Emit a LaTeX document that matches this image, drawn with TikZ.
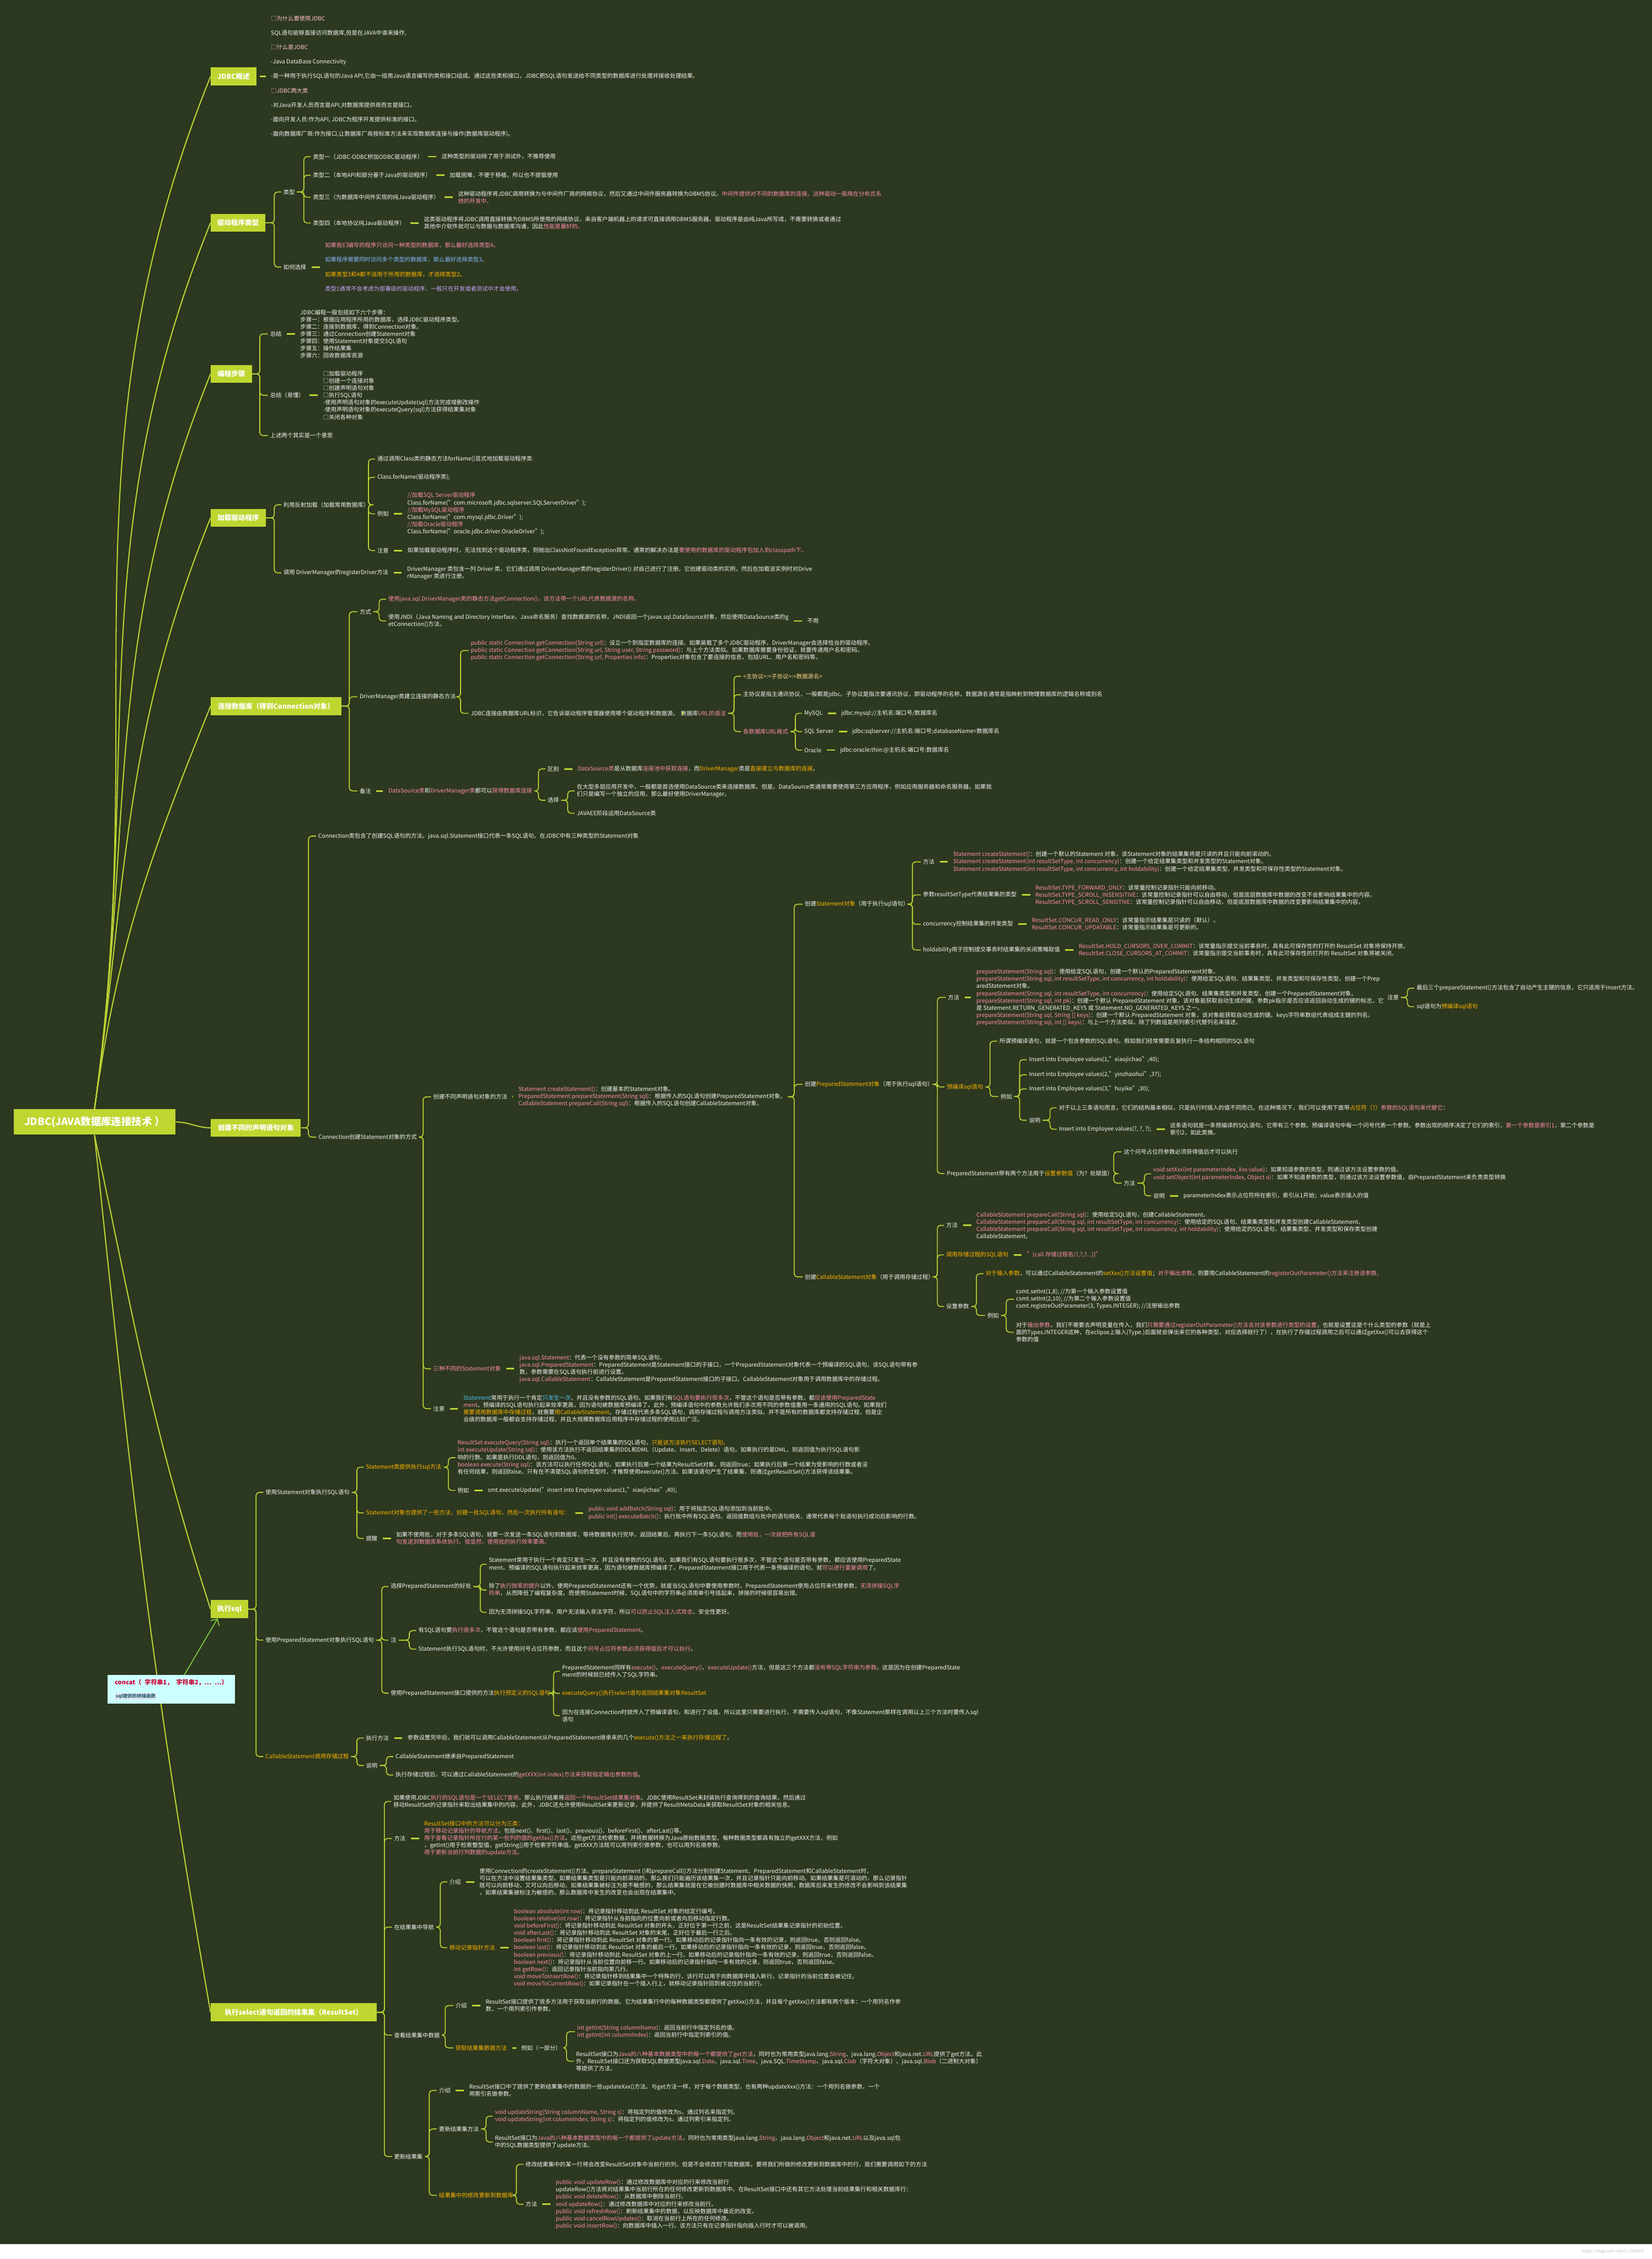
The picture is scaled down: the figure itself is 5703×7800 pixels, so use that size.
\documentclass[tikz,border=0pt]{standalone}
\usepackage{fontspec}
\setmainfont{Noto Sans CJK SC}
\usetikzlibrary{positioning, arrows.meta, calc}

\definecolor{bgc}{HTML}{2C381F}
\definecolor{linec}{HTML}{BDD334}
\definecolor{boxc}{HTML}{BFD630}
\definecolor{txtc}{HTML}{F4F4F4}
\definecolor{pinkc}{HTML}{FF8CB0}
\definecolor{orgc}{HTML}{FFB300}
\definecolor{ltpink}{HTML}{FFC4C4}
\definecolor{bluec}{HTML}{86B8FF}
\definecolor{lilac}{HTML}{C9A6FF}
\definecolor{peach}{HTML}{FFD48C}
\definecolor{skyc}{HTML}{4FC1F0}
\definecolor{arrc}{HTML}{7BC142}
\definecolor{cyanc}{HTML}{CCFFFF}
\definecolor{redc}{HTML}{CC0033}
\definecolor{subc}{HTML}{DDEAF0}
\definecolor{tealc}{HTML}{2B5F75}

\newcommand\fs{\fontsize{5.6}{7.1}\selectfont}
\newcommand\fw{\fontsize{5.6}{14.2}\selectfont}
\newcommand\fb{\fontsize{6.8}{8}\selectfont\bfseries}
\newcommand\pk[1]{\textcolor{pinkc}{#1}}
\newcommand\og[1]{\textcolor{orgc}{#1}}
\newcommand\lp[1]{\textcolor{ltpink}{#1}}
\newcommand\bu[1]{\textcolor{bluec}{#1}}
\newcommand\lc[1]{\textcolor{lilac}{#1}}
\newcommand\pc[1]{\textcolor{peach}{#1}}
\newcommand\sk[1]{\textcolor{skyc}{#1}}

% parent -> spine at x -> children
\newcommand\fork[3]{%
  \coordinate (sp) at (#2,0);
  \foreach \ch in {#3}{\draw[link] (#1.east) -- (#1.east -| sp) |- (\ch.west);}}

\begin{document}
\begin{tikzpicture}[x=0.1mm, y=-0.1mm, node distance=14pt,
    topic/.style={rectangle, fill=boxc, text=white, font=\fb, anchor=west, minimum height=17.6pt, inner xsep=4pt},
    txt/.style={anchor=west, align=left, inner sep=2pt, text=txtc, font=\fs},
    link/.style={draw=linec, line width=0.9pt, rounded corners=3pt},
    joinline/.style={draw=linec, line width=1.5pt, shorten <=3pt, shorten >=3pt},
    mainline/.style={draw=linec, line width=1.1pt},
    arr/.style={draw=arrc, line width=1pt, -{Straight Barb[length=5pt]}}
]
\fill[bgc] (0,0) rectangle (5703,7748);
\fill[white] (0,7748) rectangle (5703,7800);
\useasboundingbox (0,0) rectangle (5703,7800);

% Root and main topics
\node[topic, font=\fontsize{10}{12}\selectfont\bfseries, minimum width=159pt, minimum height=25pt] (root) at (46,3874) {JDBC(JAVA数据库连接技术 ）};
\node[topic, minimum width=44.7pt] (ov) at (727,264) {JDBC概述};
\node[topic, minimum width=53.5pt] (drv) at (727,769) {驱动程序类型};
\node[topic, minimum width=40.4pt] (step) at (727,1291) {编程步骤};
\node[topic, minimum width=54pt] (load) at (727,1788) {加载驱动程序};
\node[topic, minimum width=128.3pt] (conn) at (727,2438) {连接数据库（得到Connection对象）};
\node[topic, minimum width=88.5pt] (stmt) at (727,3894) {创建不同的声明语句对象};
\node[topic, minimum width=36.7pt] (exec) at (727,5556) {执行sql};
\node[topic, minimum width=163pt] (rs) at (727,6948) {执行select语句返回的结果集（ResultSet）};

\foreach \b in {ov,drv,step,load,conn}
  \draw[mainline] (root.north) to[out=82,in=-112] (\b.west);
\draw[mainline] (root.east) to[out=0,in=180] (stmt.west);
\draw[mainline] (root.south) to[out=-78,in=108] (exec.west);
\draw[mainline] (root.south) to[out=-84,in=100] (rs.west);

% floating topic
\node[anchor=west, fill=cyanc, minimum width=125pt, minimum height=28pt, align=left, text width=119pt, inner xsep=3pt] (concat) at (371,5833)
  {\hspace*{4pt}\textcolor{redc}{\fontsize{6}{7.5}\selectfont\bfseries concat（ 字符串1， 字符串2，… …）}\\[1pt]\hspace*{4pt}{\setlength\fboxsep{1pt}\colorbox{subc}{\textcolor{tealc}{\fontsize{4.6}{5}\selectfont\bfseries sql提供的拼接函数}}}};
\draw[arr] ([xshift=12.8pt]concat.north) -- ([xshift=7pt]exec.south west);

% JDBC概述
\node[txt, font=\fw, right=12pt of ov] (ovtxt) {\lp{□为什么要使用JDBC}\\
SQL语句能够直接访问数据库,但是在JAVA中谁来操作,\\
\lp{□什么是JDBC}\\
-Java DataBase Connectivity\\
-是一种用于执行SQL语句的Java API,它由一组用Java语言编写的类和接口组成。通过这些类和接口，JDBC把SQL语句发送给不同类型的数据库进行处理并接收处理结果。\\
\lp{□JDBC两大类}\\
-对Java开发人员而言是API,对数据库提供商而言是接口。\\
-面向开发人员:作为API, JDBC为程序开发提供标准的接口。\\
-面向数据库厂商:作为接口,让数据库厂商按标准方法来实现数据库连接与操作(数据库驱动程序)。};

% 驱动程序类型
\node[txt] (kind) at (971,663) {类型};
\node[txt] (choose) at (971,922) {如何选择};
\node[txt] (t1) at (1073,541) {类型一（JDBC-ODBC桥加ODBC驱动程序）};
\node[txt] (t2) at (1073,605) {类型二（本地API和部分基于Java的驱动程序）};
\node[txt] (t3) at (1073,681) {类型三（为数据库中间件实现的纯Java驱动程序）};
\node[txt] (t4) at (1073,770) {类型四（本地协议纯Java驱动程序）};
\node[txt, right=of t1] (t1d) {这种类型的驱动除了用于测试外，不推荐使用};
\node[txt, right=of t2] (t2d) {加载困难，不便于移植，所以也不提倡使用};
\node[txt, right=of t3] (t3d) {这种驱动程序将JDBC调用转换为与中间件厂商的网络协议，然后又通过中间件服务器转换为DBMS协议。\pk{中间件提供对不同的数据库的连接。这种驱动一般用在分布式系}\\\pk{统的开发中。}};
\node[txt, right=of t4] (t4d) {这类驱动程序将JDBC调用直接转换为DBMS所使用的网络协议，来自客户端机器上的请求可直接调用DBMS服务器。驱动程序是由纯Java所写成，不需要转换或者通过\\其他中介软件就可以与数据与数据库沟通，因此\pk{性能是最好的。}};
\node[txt, font=\fw, right=of choose] (choosed) {\pk{如果我们编写的程序只访问一种类型的数据库，那么最好选择类型4。}\\\bu{如果程序需要同时访问多个类型的数据库，那么最好选择类型3。}\\\og{如果类型3和4都不适用于所用的数据库，才选择类型2。}\\\lc{类型1通常不会考虑为部署级的驱动程序，一般只在开发或者测试中才会使用。}};
\fork{drv}{947}{kind,choose}
\fork{kind}{1049}{t1,t2,t3,t4}

% 编程步骤
\node[txt] (sum) at (925,1153) {总结};
\node[txt] (sum2) at (925,1365) {总结（易懂）};
\node[txt] (same) at (925,1504) {上述两个其实是一个意思};
\node[txt, right=of sum] (sumd) {JDBC编程一般包括如下六个步骤：\\步骤一：根据应用程序所用的数据库，选择JDBC驱动程序类型。\\步骤二：连接到数据库，得到Connection对象。\\步骤三：通过Connection创建Statement对象\\步骤四：使用Statement对象提交SQL语句\\步骤五：操作结果集\\步骤六：回收数据库资源};
\node[txt, right=of sum2] (sum2d) {□加载驱动程序\\□创建一个连接对象\\□创建声明语句对象\\□执行SQL语句\\-使用声明语句对象的executeUpdate(sql)方法完成增删改操作\\-使用声明语句对象的executeQuery(sql)方法获得结果集对象\\□关闭各种对象};
\fork{step}{897}{sum,sum2,same}

% 加载驱动程序
\node[txt] (refl) at (971,1743) {利用反射加载（加载常用数据库）};
\node[txt] (reg) at (971,1978) {调用 DriverManager的registerDriver方法};
\node[txt] (r1) at (1295,1585) {通过调用Class类的静态方法forName()显式地加载驱动程序类};
\node[txt] (r2) at (1295,1648) {Class.forName(驱动程序类);};
\node[txt] (r3) at (1295,1774) {例如};
\node[txt] (r4) at (1295,1901) {注意};
\node[txt, right=of r3] (r3d) {\pk{//加载SQL Server驱动程序}\\Class.forName("com.microsoft.jdbc.sqlserver.SQLServerDriver");\\\pk{//加载MySQL驱动程序}\\Class.forName("com.mysql.jdbc.Driver");\\\pk{//加载Oracle驱动程序}\\Class.forName("oracle.jdbc.driver.OracleDriver");};
\node[txt, right=of r4] (r4d) {如果加载驱动程序时，无法找到这个驱动程序类，则抛出ClassNotFoundException异常。通常的解决办法是\pk{要使用的数据库的驱动程序包加入到classpath下。}};
\node[txt, right=of reg] (regd) {DriverManager 类包含一列 Driver 类，它们通过调用 DriverManager类的registerDriver() 对自己进行了注册。它创建驱动类的实例，然后在加载该实例时对Drive\\rManager 类进行注册。};
\fork{load}{947}{refl,reg}
\fork{refl}{1272}{r1,r2,r3,r4}

% 连接数据库
\node[txt] (way) at (1234,2112) {方式};
\node[txt] (dmm) at (1234,2406) {DriverManager类建立连接的静态方法};
\node[txt] (rem) at (1234,2731) {备注};
\node[txt] (w1) at (1333,2069) {\pk{使用java.sql.DriverManager类的静态方法getConnection()，该方法带一个URL代表数据源的名称。}};
\node[txt] (w2) at (1333,2144) {使用JNDI（Java Naming and Directory Interface，Java命名服务）查找数据源的名称，JNDI返回一个javax.sql.DataSource对象，然后使用DataSource类的g\\etConnection()方法。};
\node[txt, right=of w2] (w2d) {不用};
\node[txt] (d1) at (1618,2246) {\pk{public static Connection getConnection(String url)}：设立一个到指定数据库的连接。如果装载了多个JDBC驱动程序，DriverManager会选择恰当的驱动程序。\\\pk{public static Connection getConnection(String url, String user, String password)}：与上个方法类似。如果数据库需要身份验证，就要传递用户名和密码。\\\pk{public static Connection getConnection(String url, Properties info)}：Properties对象包含了要连接的信息，包括URL、用户名和密码等。};
\node[txt] (d2) at (1618,2463) {JDBC连接由数据库URL标识，它告诉驱动程序管理器使用哪个驱动程序和数据源。};
\node[txt] (urlg) at (2343,2463) {数据库\pk{URL的语法}};
\node[txt] (u1) at (2558,2335) {\pc{<主协议>:<子协议>:<数据源名>}};
\node[txt] (u2) at (2558,2399) {主协议是指主通讯协议，一般都是jdbc。子协议是指次要通讯协议，即驱动程序的名称。数据源名通常是指映射到物理数据库的逻辑名称或别名};
\node[txt] (u3) at (2558,2526) {\pk{各数据库URL格式}};
\node[txt] (my) at (2769,2463) {MySQL};
\node[txt] (ss) at (2769,2526) {SQL Server};
\node[txt] (ora) at (2769,2590) {Oracle};
\node[txt, right=of my] (myd) {jdbc:mysql://主机名:端口号/数据库名};
\node[txt, right=of ss] (ssd) {jdbc:sqlserver://主机名:端口号;databaseName=数据库名};
\node[txt, right=of ora] (orad) {jdbc:oracle:thin:@主机名:端口号:数据库名};
\node[txt] (remd) at (1333,2731) {\pk{DataSource类}和\pk{DriverManager类}都可以\pk{获得数据库连接}};
\node[txt] (diff) at (1883,2655) {区别};
\node[txt] (sel) at (1883,2763) {选择};
\node[txt, right=of diff] (diffd) {\pk{DataSource类}是从数据库\pk{连接池中获取连接}，而\og{DriverManager}类是\og{直接建立与数据库的连接}。};
\node[txt] (s1) at (1984,2731) {在大型多层应用开发中，一般都是首选使用DataSource类来连接数据库。但是，DataSource类通常需要使用第三方应用程序，例如应用服务器和命名服务器。如果我\\们只是编写一个独立的应用，那么最好使用DriverManager。};
\node[txt] (s2) at (1984,2808) {JAVAEE阶段运用DataSource类};
\fork{conn}{1206}{way,dmm,rem}
\fork{way}{1309}{w1,w2}
\fork{dmm}{1590}{d1,d2}
\fork{urlg}{2534}{u1,u2,u3}
\fork{u3}{2746}{my,ss,ora}
\fork{remd}{1859}{diff,sel}
\fork{sel}{1960}{s1,s2}

% 创建不同的声明语句对象
\node[txt] (cinfo) at (1091,2887) {Connection类包含了创建SQL语句的方法。java.sql.Statement接口代表一条SQL语句。在JDBC中有三种类型的Statement对象};
\node[txt] (cway) at (1092,3926) {Connection创建Statement对象的方式};
\node[txt] (cdiff) at (1488,3787) {创建不同声明语句对象的方法};
\node[txt] (cdiffd) at (1782,3787) {\pk{Statement createStatement()}：创建基本的Statement对象。\\\pk{PreparedStatement prepareStatement(String sql)}：根据传入的SQL语句创建PreparedStatement对象。\\\pk{CallableStatement prepareCall(String sql)}：根据传入的SQL语句创建CallableStatement对象。};
\node[txt] (three) at (1488,4726) {\pk{三种不同的Statement对象}};
\node[txt, right=of three] (threed) {\pk{java.sql.Statement}：代表一个没有参数的简单SQL语句。\\\pk{java.sql.PreparedStatement}：PreparedStatement是Statement接口的子接口，一个PreparedStatement对象代表一个预编译的SQL语句。该SQL语句带有参\\数，参数需要在SQL语句执行前进行设置。\\\pk{java.sql.CallableStatement}：CallableStatement是PreparedStatement接口的子接口。CallableStatement对象用于调用数据库中的存储过程。};
\node[txt] (cnote) at (1488,4864) {注意};
\node[txt, right=of cnote] (cnoted) {\sk{Statement}常用于执行一个肯定\sk{只发生一次}，并且没有参数的SQL语句。如果我们有\pk{SQL语句要执行很多次}，不管这个语句是否带有参数，都\pk{应该使用PreparedState}\\\pk{ment}。预编译的SQL语句执行起来效率更高，因为语句被数据库预编译了。此外，预编译语句中的参数允许我们多次用不同的参数值重用一条通用的SQL语句。如果我们\\\og{需要调用数据库中存储过程}，就需要\og{用CallableStatement}。存储过程代表多条SQL语句，调用存储过程与调用方法类似。并不是所有的数据库都支持存储过程，但是企\\业级的数据库一般都会支持存储过程，并且大规模数据库应用程序中存储过程的使用比较广泛。};
\node[txt] (cs) at (2771,3122) {创建\og{Statement对象}（用于执行sql语句）};
\node[txt] (cps) at (2771,3744) {创建\og{PreparedStatement对象}（用于执行sql语句）};
\node[txt] (ccs) at (2771,4409) {创建\og{CallableStatement对象}（用于调用存储过程）};
\fork{stmt}{1065}{cinfo,cway}
\fork{cway}{1461}{cdiff,three,cnote}
\fork{cdiffd}{2742}{cs,cps,ccs}

% Statement
\node[txt] (csm) at (3179,2976) {方法};
\node[txt] (cst) at (3179,3090) {参数resultSetType代表结果集的类型};
\node[txt] (csc) at (3179,3191) {concurrency控制结果集的并发类型};
\node[txt] (csh) at (3179,3280) {holdability用于控制提交事务时结果集的关闭策略取值};
\node[txt, right=of csm] (csmd) {\pk{Statement createStatement()}：创建一个默认的Statement 对象，该Statement对象的结果集将是只读的并且只能向前滚动的。\\\pk{Statement createStatement(int resultSetType, int concurrency)}：创建一个给定结果集类型和并发类型的Statement对象。\\\pk{Statement createStatement(int resultSetType, int concurrency, int holdability)}：创建一个给定结果集类型、并发类型和可保存性类型的Statement对象。};
\node[txt, right=of cst] (cstd) {\pk{ResultSet.TYPE\_FORWARD\_ONLY}：该常量控制记录指针只能向前移动。\\\pk{ResultSet.TYPE\_SCROLL\_INSENSITIVE}：该常量控制记录指针可以自由移动，但是底层数据库中数据的改变不会影响结果集中的内容。\\\pk{ResultSet.TYPE\_SCROLL\_SENSITIVE}：该常量控制记录指针可以自由移动，但是底层数据库中数据的改变要影响结果集中的内容。};
\node[txt, right=of csc] (cscd) {\pk{ResultSet.CONCUR\_READ\_ONLY}：该常量指示结果集是只读的（默认）。\\\pk{ResultSet.CONCUR\_UPDATABLE}：该常量指示结果集是可更新的。};
\node[txt, right=of csh] (cshd) {\pk{ResultSet.HOLD\_CURSORS\_OVER\_COMMIT}：该常量指示提交当前事务时，具有此可保存性的打开的 ResultSet 对象将保持开放。\\\pk{ResultSet.CLOSE\_CURSORS\_AT\_COMMIT}：该常量指示提交当前事务时，具有此可保存性的打开的 ResultSet 对象将被关闭。};
\fork{cs}{3150}{csm,cst,csc,csh}

% PreparedStatement
\node[txt] (pm) at (3265,3444) {方法};
\node[txt] (pmd) at (3363,3444) {\pk{prepareStatement(String sql)}：使用给定SQL语句，创建一个默认的PreparedStatement对象。\\\pk{prepareStatement(String sql, int resultSetType, int concurrency, int holdability)}：使用给定SQL语句、结果集类型、并发类型和可保存性类型，创建一个Prep\\aredStatement对象。\\\pk{prepareStatement(String sql, int resultSetType, int concurrency)}：使用给定SQL语句、结果集类型和并发类型，创建一个PreparedStatement对象。\\\pk{prepareStatement(String sql, int pk)}：创建一个默认 PreparedStatement 对象，该对象能获取自动生成的键。参数pk指示是否应该返回自动生成的键的标志，它\\是 Statement.RETURN\_GENERATED\_KEYS 或 Statement.NO\_GENERATED\_KEYS 之一。\\\pk{prepareStatement(String sql, String [] keys)}：创建一个默认 PreparedStatement 对象，该对象能获取自动生成的键。keys字符串数组代表组成主键的列名。\\\pk{prepareStatement(String sql, int [] keys)}：与上一个方法类似，除了列数组是用列索引代替列名来描述。};
\node[txt] (pnote) at (4782,3444) {注意};
\node[txt] (pn1) at (4883,3412) {最后三个prepareStatement()方法包含了自动产生主键的信息，它只适用于Insert方法。};
\node[txt] (pn2) at (4883,3476) {sql语句为\og{预编译sql语句}};
\node[txt] (ppre) at (3261,3753) {\og{预编译sql语句}};
\node[txt] (pre1) at (3443,3595) {所谓预编译语句，就是一个包含参数的SQL语句。假如我们经常需要反复执行一条结构相同的SQL语句};
\node[txt] (preg) at (3447,3786) {例如};
\node[txt] (e1) at (3545,3659) {Insert into Employee values(1,"xiaojichao",40);};
\node[txt] (e2) at (3545,3711) {Insert into Employee values(2,"yinzhaohui",37);};
\node[txt] (e3) at (3545,3760) {Insert into Employee values(3,"huyike",30);};
\node[txt] (eexp) at (3545,3868) {说明};
\node[txt] (x1) at (3648,3825) {对于以上三条语句而言，它们的结构基本相似，只是执行时插入的值不同而已。在这种情况下，我们可以使用下面带\og{占位符（?）}\pk{参数的SQL语句来代替它}：};
\node[txt] (x2) at (3648,3899) {Insert into Employee values(?, ?, ?);};
\node[txt, right=of x2] (x2d) {这条语句就是一条预编译的SQL语句，它带有三个参数。预编译语句中每一个问号代表一个参数。参数出现的顺序决定了它们的索引，\pk{第一个参数是索引1}，第二个参数是\\索引2，如此类推。};
\node[txt] (pset) at (3261,4052) {PreparedStatement带有两个方法用于\og{设置参数值}（为？处赋值）};
\node[txt] (ps1) at (3872,3977) {这个问号占位符参数必须获得值后才可以执行};
\node[txt] (psm) at (3872,4085) {方法};
\node[txt] (psm1) at (3974,4053) {\pk{void setXxx(int parameterIndex, Xxx value)}：如果知道参数的类型，则通过该方法设置参数的值。\\\pk{void setObject(int parameterIndex, Object o)}：如果不知道参数的类型，则通过该方法设置参数值，由PreparedStatement来负责类型转换};
\node[txt] (psm2) at (3974,4129) {说明};
\node[txt, right=of psm2] (psm2d) {parameterIndex表示占位符所在索引，索引从1开始；value表示插入的值};
\fork{cps}{3236}{pm,ppre,pset}
\fork{pnote}{4859}{pn1,pn2}
\fork{ppre}{3418}{pre1,preg}
\fork{preg}{3520}{e1,e2,e3,eexp}
\fork{eexp}{3625}{x1,x2}
\fork{pset}{3845}{ps1,psm}
\fork{psm}{3951}{psm1,psm2}

% CallableStatement
\node[txt] (cm) at (3259,4231) {方法};
\node[txt, right=of cm] (cmd) {\pk{CallableStatement prepareCall(String sql)}：使用给定SQL语句，创建CallableStatement。\\\pk{CallableStatement prepareCall(String sql, int resultSetType, int concurrency)}：使用给定的SQL语句、结果集类型和并发类型创建CallableStatement。\\\pk{CallableStatement prepareCall(String sql, int resultSetType, int concurrency, int holdability)}：使用给定的SQL语句、结果集类型、并发类型和保存类型创建\\CallableStatement。};
\node[txt] (ccall) at (3259,4333) {\og{调用存储过程的SQL语句}};
\node[txt, right=of ccall] (ccalld) {\pk{"\{call 存储过程名(?,?,?...)\}"}};
\node[txt] (cset) at (3259,4511) {设置参数};
\node[txt] (cs1) at (3395,4398) {\og{对于输入参数}，可以通过CallableStatement的\og{setXxx()方法设置值}；\pk{对于输出参数}，则要用CallableStatement的\pk{registerOutParameter()方法来注册该参数。}};
\node[txt] (cseg) at (3401,4542) {例如};
\node[txt] (cg1) at (3500,4486) {csmt.setInt(1,8); //为第一个输入参数设置值\\csmt.setInt(2,10); //为第二个输入参数设置值\\csmt.registreOutParameter(3, Types.INTEGER); //注册输出参数};
\node[txt] (cg2) at (3500,4600) {对于\pk{输出参数}，我们不需要去声明变量在传入，我们\pk{只需要通过registerOutParameter()方法去对该参数进行类型的设置}，也就是设置这是个什么类型的参数（就是上\\面的Types.INTEGER这种，在eclipse上输入(Type.)后面就会弹出来它的各种类型，对应选择就行了），在执行了存储过程调用之后可以通过getXxx()可以去获得这个\\参数的值};
\fork{ccs}{3236}{cm,ccall,cset}
\fork{cset}{3371}{cs1,cseg}
\fork{cseg}{3474}{cg1,cg2}

% 执行sql
\node[txt] (ust) at (909,5153) {使用Statement对象执行SQL语句};
\node[txt] (ups) at (909,5663) {使用PreparedStatement对象执行SQL语句};
\node[txt] (ucs) at (909,6065) {\og{CallableStatement调用存储过程}};
\node[txt] (um) at (1256,5066) {\og{Statement类提供执行sql方法}};
\node[txt] (um1) at (1572,5033) {\pk{ResultSet executeQuery(String sql)}：执行一个返回单个结果集的SQL语句，\og{只能该方法执行SELECT语句。}\\\pk{int executeUpdate(String sql)}：使用该方法执行不返回结果集的DDL和DML（Update、Insert、Delete）语句。如果执行的是DML，则返回值为执行SQL语句影\\响的行数。如果是执行DDL语句，则返回值为0。\\\pk{boolean execute(String sql)}：该方法可以执行任何SQL语句。如果执行后第一个结果为ResultSet对象，则返回true；如果执行后第一个结果为受影响的行数或者没\\有任何结果，则返回false。只有在不清楚SQL语句的类型时，才推荐使用execute()方法。如果该语句产生了结果集，则通过getResultSet()方法获得该结果集。};
\node[txt] (um2) at (1572,5146) {例如};
\node[txt, right=of um2] (um2d) {smt.executeUpdate("insert into Employee values(1,"xiaojichao",40);};
\node[txt] (ubatch) at (1256,5224) {\og{Statement对象也提供了一些方法，创建一批SQL语句，然后一次执行所有语句：}};
\node[txt, right=of ubatch] (ubatchd) {\pk{public void addBatch(String sql)}：用于将指定SQL语句添加到当前批中。\\\pk{public int[] executeBatch()}：执行批中所有SQL语句。返回值数组与批中的语句相关，通常代表每个批语句执行成功后影响的行数。};
\node[txt] (uwarn) at (1256,5312) {提醒};
\node[txt, right=of uwarn] (uwarnd) {如果不使用批，对于多条SQL语句，就要一次发送一条SQL语句到数据库，等待数据库执行完毕，返回结果后，再执行下一条SQL语句。而\pk{使用批，一次就把所有SQL语}\\\pk{句发送到数据库系统执行。很显然，使用批的执行效率要高。}};
\fork{exec}{884}{ust,ups,ucs}
\fork{ust}{1232}{um,ubatch,uwarn}
\fork{um}{1548}{um1,um2}

\node[txt] (pgood) at (1341,5478) {选择PreparedStatement的好处};
\node[txt] (g1) at (1680,5401) {Statement常用于执行一个肯定只发生一次，并且没有参数的SQL语句。如果我们有SQL语句要执行很多次，不管这个语句是否带有参数，都应该使用PreparedState\\ment。预编译的SQL语句执行起来效率更高，因为语句被数据库预编译了。PreparedStatement接口用于代表一条预编译的语句。就\pk{可以进行重复调用}了。};
\node[txt] (g2) at (1680,5490) {除了\pk{执行效率的提升}以外，使用PreparedStatement还有一个优势，就是当SQL语句中要使用参数时，PreparedStatement使用占位符来代替参数，\pk{无须拼接SQL字}\\\pk{符串}，从而降低了编程复杂度。而使用Statement时候，SQL语句中的字符串必须用单引号括起来，拼接的时候很容易出错。};
\node[txt] (g3) at (1680,5567) {因为无须拼接SQL字符串，用户无法输入非法字符，所以\pk{可以防止SQL注入式攻击}，安全性更好。};
\node[txt] (pnt) at (1341,5663) {注};
\node[txt] (n1) at (1437,5630) {有SQL语句要\pk{执行很多次}，不管这个语句是否带有参数，都应该\pk{使用PreparedStatement}。};
\node[txt] (n2) at (1437,5694) {Statement执行SQL语句时，不允许使用问号占位符参数，而且这个\pk{问号占位符参数必须获得值后才可以执行}。};
\node[txt] (puse) at (1341,5846) {使用PreparedStatement接口提供的方法\og{执行预定义的SQL语句}};
\node[txt] (pu1) at (1933,5771) {PreparedStatement同样有\pk{execute()}、\pk{executeQuery()}、\pk{executeUpdate()}方法，但是这三个方法都\pk{没有带SQL字符串为参数}。这是因为在创建PreparedState\\ment的时候就已经传入了SQL字符串。};
\node[txt] (pu2) at (1933,5847) {\og{executeQuery()执行select语句返回结果集对象ResultSet}};
\node[txt] (pu3) at (1933,5924) {因为在连接Connection时就传入了预编译语句，和进行了设值，所以这里只需要进行执行，不需要传入sql语句，不像Statement那样在调用以上三个方法时要传入sql\\语句};
\fork{ups}{1318}{pgood,pnt,puse}
\fork{pgood}{1658}{g1,g2,g3}
\fork{pnt}{1413}{n1,n2}
\fork{puse}{1911}{pu1,pu2,pu3}

\node[txt] (cex) at (1256,6001) {执行方法};
\node[txt, right=of cex] (cexd) {参数设置完毕后，我们就可以调用CallableStatement从PreparedStatement继承来的几个\og{execute()方法之一来执行存储过程了}。};
\node[txt] (cexp) at (1256,6096) {说明};
\node[txt] (ce1) at (1358,6065) {CallableStatement继承自PreparedStatement};
\node[txt] (ce2) at (1358,6129) {执行存储过程后，可以通过CallableStatement的\pk{getXXX(int index)方法来获取指定输出参数的值}。};
\fork{ucs}{1232}{cex,cexp}
\fork{cexp}{1334}{ce1,ce2}

% 结果集
\node[txt] (rintro) at (1351,6220) {如果使用JDBC\pk{执行的SQL语句是一个SELECT查询}，那么执行结果将\pk{返回一个ResultSet结果集对象}。JDBC使用ResultSet来封装执行查询得到的查询结果，然后通过\\移动ResultSet的记录指针来取出结果集中的内容。此外，JDBC还允许使用ResultSet来更新记录，并提供了ResultMetaData来获取ResultSet对象的相关信息。};
\node[txt] (rmeth) at (1353,6348) {方法};
\node[txt, right=of rmeth] (rmethd) {\og{ResultSet接口中的方法可以分为三类：}\\\pk{用于移动记录指针的导航方法}，包括next()、first()、last()、previous()、beforeFirst()、afterLast()等。\\\pk{用于查看记录指针所在行的某一些列的值的getXxx()方法}。这些get方法检索数据，并将数据转换为Java原始数据类型。每种数据类型都具有独立的getXXX方法，例如\\，getInt()用于检索整型值，getString()用于检索字符串值。getXXX方法既可以用列索引做参数，也可以用列名做参数。\\\pk{用于更新当前行列数据的update方法。}};
\node[txt] (rnav) at (1353,6654) {在结果集中导航};
\node[txt] (nvi) at (1544,6498) {介绍};
\node[txt, right=of nvi] (nvid) {使用Connection的createStatement()方法、prepareStatement ()和prepareCall()方法分别创建Statement、PreparedStatement和CallableStatement时，\\可以在方法中设置结果集类型。如果结果集类型是只能向前滚动的，那么我们只能遍历该结果集一次，并且记录指针只能向前移动。如果结果集是可滚动的，那么记录指针\\既可以向前移动，又可以向后移动。如果结果集被标注为是不敏感的，那么结果集就是在它被创建时数据库中相关数据的快照，数据库后来发生的修改不会影响到该结果集\\。如果结果集被标注为敏感的，那么数据库中发生的改变也会出现在结果集中。};
\node[txt] (nvm) at (1544,6725) {\og{移动记录指针方法}};
\node[txt, right=of nvm] (nvmd) {\pk{boolean absolute(int row)}：将记录指针移动到此 ResultSet 对象的给定行编号。\\\pk{boolean relative(int row)}：将记录指针从当前指向的位置向前或者向后移动指定行数。\\\pk{void beforeFirst()}：将记录指针移动到此 ResultSet 对象的开头，正好位于第一行之前，这是ResultSet结果集记录指针的初始位置。\\\pk{void afterLast()}：将记录指针移动到此 ResultSet 对象的末尾，正好位于最后一行之后。\\\pk{boolean first()}：将记录指针移动到此 ResultSet 对象的第一行。如果移动后的记录指针指向一条有效的记录，则返回true，否则返回false。\\\pk{boolean last()}：将记录指针移动到此 ResultSet 对象的最后一行。如果移动后的记录指针指向一条有效的记录，则返回true，否则返回false。\\\pk{boolean previous()}：将记录指针移动到此 ResultSet 对象的上一行。如果移动后的记录指针指向一条有效的记录，则返回true，否则返回false。\\\pk{boolean next()}：将记录指针从当前位置向前移一行。如果移动后的记录指针指向一条有效的记录，则返回true，否则返回false。\\\pk{int getRow()}：返回记录指针当前指向第几行。\\\pk{void moveToInsertRow()}：将记录指针移到结果集中一个特殊的行，该行可以用于向数据库中插入新行。记录指针的当前位置会被记住。\\\pk{void moveToCurrentRow()}：如果记录指针在一个插入行上，就移动记录指针回到被记住的当前行。};
\node[txt] (rview) at (1353,7027) {查看结果集中数据};
\node[txt] (vi) at (1565,6925) {介绍};
\node[txt, right=of vi] (vid) {ResultSet接口提供了很多方法用于获取当前行的数据。它为结果集行中的每种数据类型都提供了getXxx()方法，并且每个getXxx()方法都有两个版本：一个用列名作参\\数，一个用列索引作参数。};
\node[txt] (vg) at (1565,7071) {\og{获取结果集数据方法}};
\node[txt] (vgx) at (1792,7071) {例如（一部分）};
\node[txt] (vg1) at (1985,7015) {\pk{int getInt(String columnName)}：返回当前行中指定列名的值。\\\pk{int getInt(int columnIndex)}：返回当前行中指定列索引的值。};
\node[txt] (vg2) at (1981,7117) {ResultSet接口为\pk{Java的八种基本数据类型中的每一个都提供了get方法}，同时也为常用类型java.lang.\pk{String}、java.lang.\pk{Object}和java.net.\pk{URL}提供了get方法。此\\外，ResultSet接口还为获取SQL数据类型java.sql.\pk{Date}、java.sql.\pk{Time}、java.SQL.\pk{TimeStamp}、java.sql.\pk{Clob}（字符大对象）、java.sql.\pk{Blob}（二进制大对象）\\等提供了方法。};
\node[txt] (rupd) at (1353,7446) {更新结果集};
\node[txt] (ui) at (1508,7218) {介绍};
\node[txt, right=of ui] (uid) {ResultSet接口中了提供了更新结果集中的数据的一些updateXxx()方法。与get方法一样，对于每个数据类型，也有两种updateXxx()方法：一个用列名做参数，一个\\用索引名做参数。};
\node[txt] (uu) at (1508,7351) {更新结果集方法};
\node[txt] (uu1) at (1701,7307) {\pk{void updateString(String columnName, String s)}：将指定列的值修改为s，通过列名来指定列。\\\pk{void updateString(int columnIndex, String s)}：将指定列的值修改为s，通过列索引来指定列。};
\node[txt] (uu2) at (1701,7396) {ResultSet接口为\pk{Java的八种基本数据类型中的每一个都提供了update方法}，同时也为常用类型java.lang.\pk{String}、java.lang.\pk{Object}和java.net.\pk{URL}以及java.sql包\\中的SQL数据类型提供了update方法。};
\node[txt] (uw) at (1508,7580) {\og{结果集中的修改更新到数据库}};
\node[txt] (uw1) at (1807,7473) {修改结果集中的某一行将会改变ResultSet对象中当前行的列，但是不会修改到下层数据库。要将我们所做的修改更新到数据库中的行，我们需要调用如下的方法};
\node[txt] (uw2) at (1807,7611) {方法};
\node[txt, right=of uw2] (uw2d) {\pk{public void updateRow()}：通过修改数据库中对应的行来修改当前行\\updateRow()方法将对结果集中当前行所在的任何修改更新到数据库中。在ResultSet接口中还有其它方法处理当前结果集行和相关数据库行：\\\pk{public void deleteRow()}：从数据库中删除当前行。\\\pk{void updateRow()}：通过修改数据库中对应的行来修改当前行。\\\pk{public void refreshRow()}：刷新结果集中的数据，以反映数据库中最近的改变。\\\pk{public void cancelRowUpdates()}：取消在当前行上所在的任何修改。\\\pk{public void insertRow()}：向数据库中插入一行。该方法只有在记录指针指向插入行时才可以被调用。};
\fork{rs}{1327}{rintro,rmeth,rnav,rview,rupd}
\fork{rnav}{1520}{nvi,nvm}
\fork{rview}{1537}{vi,vg}
\fork{vgx}{1956}{vg1,vg2}
\fork{rupd}{1482}{ui,uu,uw}
\fork{uu}{1678}{uu1,uu2}
\fork{uw}{1783}{uw1,uw2}

% label -> text dashes
\foreach \a/\b in {ov/ovtxt, t1/t1d, t2/t2d, t3/t3d, t4/t4d, choose/choosed, sum/sumd, sum2/sum2d,
    r3/r3d, r4/r4d, reg/regd, w2/w2d, d2/urlg, my/myd, ss/ssd, ora/orad, rem/remd, diff/diffd,
    cdiff/cdiffd, three/threed, cnote/cnoted, csm/csmd, cst/cstd, csc/cscd, csh/cshd, pm/pmd,
    pmd/pnote, x2/x2d, psm2/psm2d, cm/cmd, ccall/ccalld, um2/um2d, ubatch/ubatchd, uwarn/uwarnd,
    cex/cexd, rmeth/rmethd, nvi/nvid, nvm/nvmd, vi/vid, vg/vgx, ui/uid, uw2/uw2d}
  \draw[joinline] (\a.east) -- (\b.west);

\node[anchor=east, text=black!25, font=\fontsize{4}{5}\selectfont] (wm) at (5690,7774) {https://blog.csdn.net/IT\_CREATE};
\end{tikzpicture}
\end{document}
